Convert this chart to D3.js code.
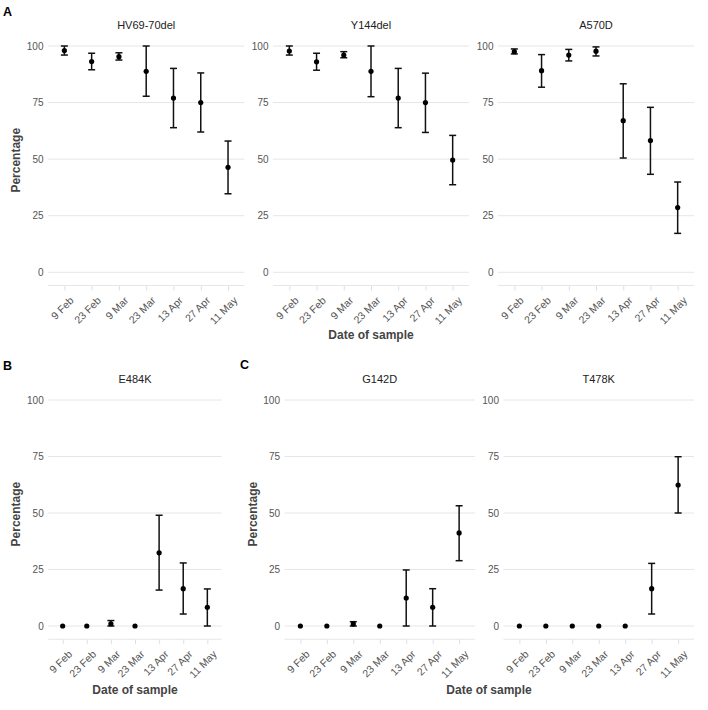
<!DOCTYPE html>
<html><head><meta charset="utf-8">
<script src="https://cdn.jsdelivr.net/npm/d3@7"></script>
<style>body{margin:0;background:#fff}svg{display:block;font-family:"Liberation Sans",Arial,sans-serif}</style>
</head><body><svg id="c" width="708" height="710"></svg>
<script>
const dates = ["9 Feb","23 Feb","9 Mar","23 Mar","13 Apr","27 Apr","11 May"];
const yTicks = [0,25,50,75,100];

const hvVal = [98, 93.1, 95.3, 88.8, 77, 75, 46.4];
const hvLo  = [96, 89.5, 93.8, 77.8, 63.9, 62, 34.7];
const hvHi  = [100, 96.8, 97, 100, 90.1, 88.1, 58];

const y144Val = [97.8, 93, 96, 88.8, 77, 75, 49.6];
const y144Lo  = [96, 89.3, 94.8, 77.6, 63.9, 61.8, 38.7];
const y144Hi  = [100, 96.8, 97.5, 100, 90.1, 88, 60.5];

const a570Val = [97.5, 89.1, 96, 97.7, 67, 58.2, 28.6];
const a570Lo  = [96.5, 81.8, 93.4, 95.6, 50.5, 43.3, 17.2];
const a570Hi  = [98.7, 96.2, 98.5, 99.6, 83.3, 72.9, 39.9];

const e484Val = [0, 0, 1.0, 0, 32.4, 16.5, 8.3];
const e484Lo  = [0, 0, 0, 0, 15.9, 5.3, 0];
const e484Hi  = [0, 0, 2.4, 0, 49, 27.9, 16.4];

const g142Val = [0, 0, 0.9, 0, 12.4, 8.3, 41.2];
const g142Lo  = [0, 0, 0, 0, 0, 0, 28.9];
const g142Hi  = [0, 0, 1.9, 0, 24.8, 16.5, 53.2];

const t478Val = [0, 0, 0, 0, 0, 16.5, 62.4];
const t478Lo  = [0, 0, 0, 0, 0, 5.3, 50];
const t478Hi  = [0, 0, 0, 0, 0, 27.7, 74.9];

const svg = d3.select("#c");
const rows = [
  {y0: 272.3, y100: 46, title: 25},
  {y0: 626, y100: 400, title: 379}
];
const panels = [
  {name:"HV69-70del", v:hvVal, lo:hvLo, hi:hvHi, x0:48, x1:244.4, row:0, ylab:true},
  {name:"Y144del", v:y144Val, lo:y144Lo, hi:y144Hi, x0:273, x1:469, row:0, ylab:false},
  {name:"A570D", v:a570Val, lo:a570Lo, hi:a570Hi, x0:498, x1:694, row:0, ylab:false},
  {name:"E484K", v:e484Val, lo:e484Lo, hi:e484Hi, x0:48.2, x1:221.8, row:1, ylab:true},
  {name:"G142D", v:g142Val, lo:g142Lo, hi:g142Hi, x0:284.5, x1:475, row:1, ylab:true},
  {name:"T478K", v:t478Val, lo:t478Lo, hi:t478Hi, x0:503.5, x1:694, row:1, ylab:false}
];

panels.forEach(p => {
  const r = rows[p.row];
  const x = d3.scalePoint().domain(dates).range([p.x0, p.x1]).padding(0.6);
  const y = d3.scaleLinear().domain([0,100]).range([r.y0, r.y100]);
  const g = svg.append("g");
  const bl = y(-5.85);
  g.selectAll("line.grid").data(yTicks).join("line")
    .attr("x1", p.x0).attr("x2", p.x1)
    .attr("y1", d => y(d)).attr("y2", d => y(d))
    .attr("stroke", "#e6e6e6").attr("stroke-width", 1);
  const ax = g.append("g").attr("transform", `translate(0,${bl})`)
    .call(d3.axisBottom(x).tickSize(5).tickSizeOuter(0));
  ax.select(".domain").remove();
  ax.append("line").attr("x1", p.x0).attr("x2", p.x1).attr("stroke", "#e6e6e6");
  ax.selectAll(".tick line").attr("stroke", "#e0e0e0");
  ax.selectAll(".tick text")
    .attr("fill", "#555").attr("font-size", 10.5)
    .attr("text-anchor", "end")
    .attr("y", 0).attr("dy", "0.35em")
    .attr("transform", "translate(7,13) rotate(-45)");
  const ay = g.append("g").attr("transform", `translate(${p.x0},0)`)
    .call(d3.axisLeft(y).tickValues(yTicks).tickSize(0).tickPadding(4.5));
  ay.select(".domain").remove();
  ay.selectAll(".tick text").attr("fill", "#555").attr("font-size", 10);
  g.append("text").attr("x", (p.x0+p.x1)/2).attr("y", r.title).attr("dy", "0.35em")
    .attr("text-anchor", "middle").attr("font-size", 11).attr("fill", "#222").text(p.name);
  if (p.ylab) {
    g.append("text").attr("transform", `translate(${p.x0-32},${(r.y100 - 11 + bl)/2}) rotate(-90)`)
      .attr("text-anchor", "middle").attr("dy", "0.35em").attr("font-size", 12)
      .attr("font-weight", "bold").attr("fill", "#444").text("Percentage");
  }
  const idx = d3.range(dates.length).filter(i => p.hi[i] > p.lo[i]);
  const eb = g.selectAll("g.eb").data(idx).join("g").attr("stroke", "#111").attr("stroke-width", 1.5);
  eb.append("line").attr("x1", i => x(dates[i])).attr("x2", i => x(dates[i]))
    .attr("y1", i => y(p.lo[i])).attr("y2", i => y(p.hi[i]));
  eb.append("line").attr("x1", i => x(dates[i]) - 3.5).attr("x2", i => x(dates[i]) + 3.5)
    .attr("y1", i => y(p.lo[i])).attr("y2", i => y(p.lo[i]));
  eb.append("line").attr("x1", i => x(dates[i]) - 3.5).attr("x2", i => x(dates[i]) + 3.5)
    .attr("y1", i => y(p.hi[i])).attr("y2", i => y(p.hi[i]));
  g.selectAll("circle").data(p.v).join("circle")
    .attr("cx", (d, i) => x(dates[i])).attr("cy", d => y(d)).attr("r", 2.6).attr("fill", "#000");
});

[[371, 335], [135, 690], [489, 690]].forEach(([cx, cy]) => {
  svg.append("text").attr("x", cx).attr("y", cy).attr("dy", "0.35em").attr("text-anchor", "middle")
    .attr("font-size", 12).attr("font-weight", "bold").attr("fill", "#444").text("Date of sample");
});

[["A", 3, 16], ["B", 3, 370], ["C", 240, 369]].forEach(([t, lx, ly]) => {
  svg.append("text").attr("x", lx).attr("y", ly).attr("font-size", 12.5).attr("font-weight", "bold")
    .attr("fill", "#000").text(t);
});
</script></body></html>
